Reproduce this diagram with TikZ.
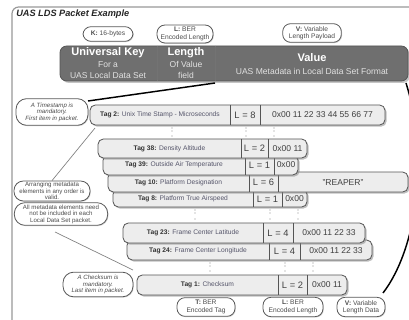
\documentclass[tikz,border=0pt]{standalone}
\usepackage{fontspec}
\setmainfont{Liberation Sans}
\usetikzlibrary{shadows}

\definecolor{hdrgray}{HTML}{6F6F6F}
\definecolor{hdredge}{HTML}{555555}
\definecolor{rowfill}{HTML}{EDEDED}
\definecolor{rowedge}{HTML}{555555}
\definecolor{tagblue}{HTML}{55556A}
\definecolor{hdrsub}{HTML}{E2E2E2}

\newcommand\tagb[1]{\textbf{\color{black!80}#1}}

\tikzset{
  frameline/.style={draw=black!40, line width=0.9pt, rounded corners=5pt},
  hdr/.style={fill=hdrgray, draw=hdredge, line width=0.6pt, rounded corners=5pt,
    drop shadow={shadow xshift=1.4pt, shadow yshift=-1.4pt, fill=black!45}},
  hdrsep/.style={draw=black!55, line width=0.6pt},
  hdrbig/.style={font=\bfseries\fontsize{8.3}{9}\selectfont, text=white, inner sep=0pt},
  hdrsmall/.style={font=\fontsize{6.4}{7}\selectfont, text=hdrsub, inner sep=0pt},
  pkt/.style={fill=rowfill, draw=rowedge, line width=0.6pt, rounded corners=4pt,
    drop shadow={shadow xshift=1.2pt, shadow yshift=-1.2pt, fill=black!50}},
  sep/.style={draw=rowedge, line width=0.5pt},
  tagtxt/.style={font=\fontsize{5}{6}\selectfont, text=tagblue, inner sep=0pt},
  lentxt/.style={font=\fontsize{7}{8}\selectfont, text=black!75, inner sep=0pt},
  valtxt/.style={font=\fontsize{6.4}{7.5}\selectfont, text=black!75, inner sep=0pt},
  callout/.style={rectangle, rounded corners=6pt, draw=black!65, fill=white, line width=0.6pt,
    inner sep=0pt, align=center, font=\fontsize{5}{5.5}\selectfont, text=black!70,
    drop shadow={shadow xshift=0.6pt, shadow yshift=-0.6pt, fill=black!35}},
  note/.style={callout, rounded corners=8pt, font=\fontsize{4.6}{4.9}\selectfont},
  zoomline/.style={draw=black, line width=1.1pt},
  guide/.style={draw=black!50, line width=0.5pt},
  dotmark/.style={fill=black!45},
}

\begin{document}
\begin{tikzpicture}[x=0.75pt,y=-0.75pt]
\useasboundingbox (0,0) rectangle (409,320);
\clip (0,0) rectangle (409,320);
\fill[white] (0,0) rectangle (409,320);

% outer frame and title
\draw[frameline] (12,330) -- (12,7) -- (420,7);
\node[anchor=west, font=\bfseries\itshape\fontsize{6.9}{8}\selectfont, text=black!85, inner sep=0pt]
  (title) at (16,14) {UAS LDS Packet Example};

% K / L / V header callouts
\node[callout, minimum width=37.5pt, minimum height=11pt] (ck) at (108,34) {\textbf{K:} 16-bytes};
\node[callout, minimum width=42pt, minimum height=13.5pt] (cl) at (185,34) {\textbf{L:} BER\\Encoded Length};
\node[callout, minimum width=44pt, minimum height=14pt] (cv) at (312,33) {\textbf{V:} Variable\\Length Payload};

% KLV header bar
\path[hdr] (60,46) rectangle (408,81);
\draw[hdrsep] (157,46) -- (157,81) (215,46) -- (215,81);
\node[hdrbig] (uk) at (108,53) {Universal Key};
\node[hdrsmall] (uk2) at (108,64.5) {For a};
\node[hdrsmall] (uk3) at (108,75.5) {UAS Local Data Set};
\node[hdrbig] (ln) at (186,53) {Length};
\node[hdrsmall] (ln2) at (186,64.5) {Of Value};
\node[hdrsmall] (ln3) at (186,75.5) {field};
\node[hdrbig] (vl) at (312,58) {Value};
\node[hdrsmall] (vl2) at (312,71) {UAS Metadata in Local Data Set Format};

% zoom lines from the value field down to the packet
\coordinate (vsw) at (215,83);
\coordinate (vse) at (406,83);
\coordinate (pnw) at (88,101);
\coordinate (pse) at (383,293);
\draw[zoomline] (vsw) -- (pnw);
\draw[zoomline] (vse) .. controls (430,160) and (416,250) .. (pse);

% Tag 2
\path[pkt] (90,105) rectangle (385,125);
\draw[sep] (230,105) -- (230,125) (260,105) -- (260,125);
\node[tagtxt] (t2) at (160,115) {\tagb{Tag 2:} Unix Time Stamp - Microseconds};
\node[lentxt] (l2) at (245,115) {L = 8};
\node[valtxt] (v2) at (322.5,115) {0x00 11 22 33 44 55 66 77};

% elision dots
\foreach \x in {172,246,274}
  \foreach \y in {128,131,136} \fill[dotmark] (\x,\y) circle (0.6);

% Tag 8, 10, 39, 38 (stacked, upper rows drawn last)
\path[pkt] (113,189) rectangle (307,207);
\draw[sep] (253,189) -- (253,207) (282,189) -- (282,207);
\node[tagtxt] (t8) at (183,199) {\tagb{Tag 8:} Platform True Airspeed};
\node[lentxt] (l8) at (267.5,199) {L = 1};
\node[valtxt] (v8) at (294.5,199) {0x00};

\path[pkt] (108,172) rectangle (408,192);
\draw[sep] (249,172) -- (249,192) (278,172) -- (278,192);
\node[tagtxt] (t10) at (178.5,182.5) {\tagb{Tag 10:} Platform Designation};
\node[lentxt] (l10) at (263.5,182.5) {L = 6};
\node[valtxt] (v10) at (343,182.5) {"REAPER"};

\path[pkt] (103,155) rectangle (298,175);
\draw[sep] (245,155) -- (245,175) (274,155) -- (274,175);
\node[tagtxt] (t39) at (174,165) {\tagb{Tag 39:} Outside Air Temperature};
\node[lentxt] (l39) at (259.5,165) {L = 1};
\node[valtxt] (v39) at (286,165) {0x00};

\path[pkt] (98,139) rectangle (307,158);
\draw[sep] (241,139) -- (241,158) (268,139) -- (268,158);
\node[tagtxt] (t38) at (169.5,148.5) {\tagb{Tag 38:} Density Altitude};
\node[lentxt] (l38) at (254.5,148.5) {L = 2};
\node[valtxt] (v38) at (287.5,148.5) {0x00 11};

\foreach \x in {195,270,298}
  \foreach \y in {210,213,219} \fill[dotmark] (\x,\y) circle (0.6);

% Tag 24, 23
\path[pkt] (127,240) rectangle (372,260);
\draw[sep] (269,240) -- (269,260) (300,240) -- (300,260);
\node[tagtxt] (t24) at (198,251) {\tagb{Tag 24:} Frame Center Longitude};
\node[lentxt] (l24) at (284.5,251) {L = 4};
\node[valtxt] (v24) at (336,251) {0x00 11 22 33};

\path[pkt] (123,223) rectangle (365,243);
\draw[sep] (263,223) -- (263,243) (293,223) -- (293,243);
\node[tagtxt] (t23) at (193,233) {\tagb{Tag 23:} Frame Center Latitude};
\node[lentxt] (l23) at (278,233) {L = 4};
\node[valtxt] (v23) at (329,233) {0x00 11 22 33};

\foreach \x in {210,285,313}
  \foreach \y in {263,266,271} \fill[dotmark] (\x,\y) circle (0.6);

% Tag 1
\path[pkt] (137,275) rectangle (347,295);
\draw[sep] (278,275) -- (278,295) (307,275) -- (307,295);
\node[tagtxt] (t1) at (207.5,285) {\tagb{Tag 1:} Checksum};
\node[lentxt] (l1) at (292.5,285) {L = 2};
\node[valtxt] (v1) at (327,285) {0x00 11};

% side notes
\node[note, minimum width=54pt, minimum height=20pt] (ts) at (52,112)
  {\itshape A Timestamp is\\\itshape mandatory.\\\itshape First item in packet.};
\node[note, rounded corners=7pt, minimum width=57pt, minimum height=15pt] (arr) at (52,191)
  {Arranging metadata\\elements in any order is\\valid.};
\node[note, minimum width=70pt, minimum height=17pt] (all) at (61,214)
  {All metadata elements need\\not be included in each\\Local Data Set packet.};
\node[note, minimum width=52.5pt, minimum height=18.5pt] (cks) at (98,284.5)
  {\itshape A Checksum is\\\itshape mandatory.\\\itshape Last item in packet.};

\coordinate (g1) at (95,128);
\draw[guide] (g1) -- (arr.north);
\coordinate (g2a) at (55,232);
\coordinate (g2b) at (133,270);
\draw[guide] (g2a) -- (g2b);

% T / L / V item callouts
\node[callout, minimum width=43.5pt, minimum height=14pt] (bt) at (206,307) {\textbf{T:} BER\\Encoded Tag};
\node[callout, minimum width=45pt, minimum height=14.5pt] (bl) at (293,307) {\textbf{L:} BER\\Encoded Length};
\node[callout, minimum width=36pt, minimum height=14.5pt] (bv) at (361,307) {\textbf{V:} Variable\\Length Data};
\end{tikzpicture}
\end{document}
